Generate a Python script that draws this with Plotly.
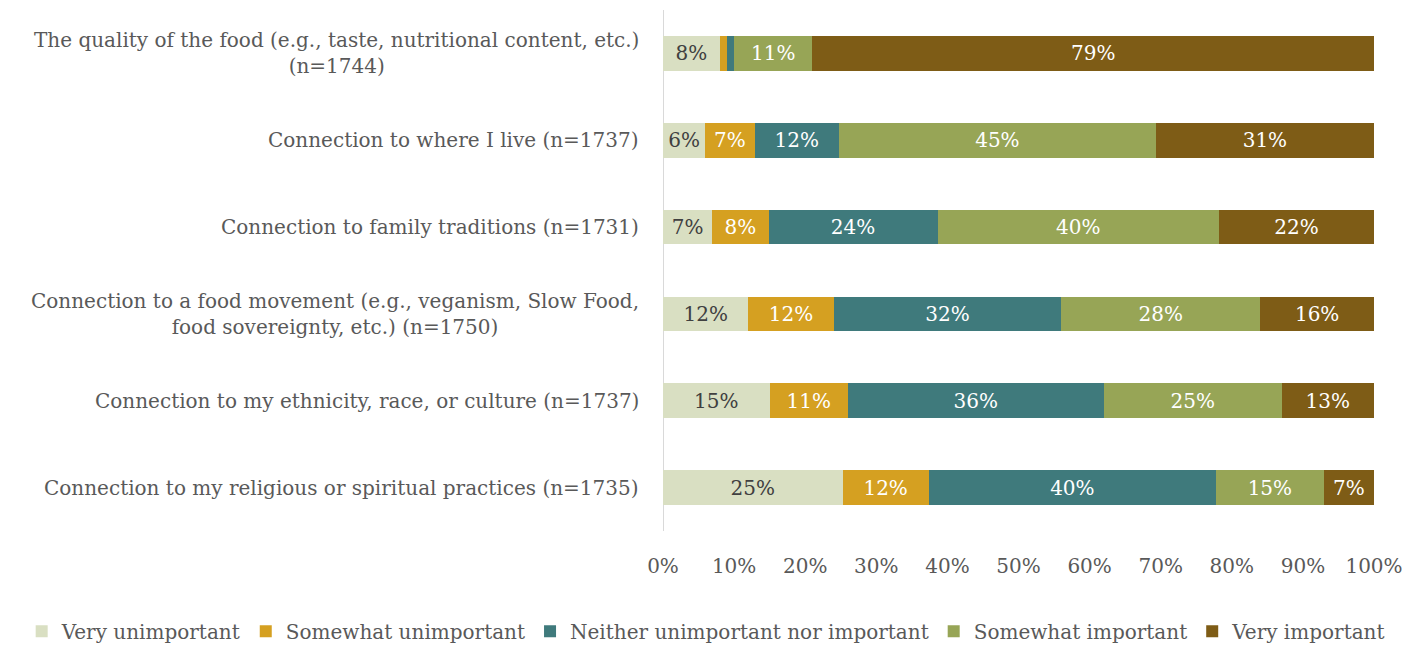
import plotly.graph_objects as go

categories = [
    "The quality of the food (e.g., taste, nutritional content, etc.)<br>(n=1744)",
    "Connection to where I live (n=1737)",
    "Connection to family traditions (n=1731)",
    "Connection to a food movement (e.g., veganism, Slow Food,<br>food sovereignty, etc.) (n=1750)",
    "Connection to my ethnicity, race, or culture (n=1737)",
    "Connection to my religious or spiritual practices (n=1735)",
]

very_unimportant = [8, 6, 7, 12, 15, 25]
somewhat_unimportant = [1, 7, 8, 12, 11, 12]
neither = [1, 12, 24, 32, 36, 40]
somewhat_important = [11, 45, 40, 28, 25, 15]
very_important = [79, 31, 22, 16, 13, 7]

# segments too thin to carry a label
hidden_labels = {("Somewhat unimportant", 0), ("Neither unimportant nor important", 0)}

series = [
    ("Very unimportant", very_unimportant, "#D9DFC2", "#404040"),
    ("Somewhat unimportant", somewhat_unimportant, "#D5A021", "white"),
    ("Neither unimportant nor important", neither, "#3F7A7C", "white"),
    ("Somewhat important", somewhat_important, "#97A556", "white"),
    ("Very important", very_important, "#7E5C16", "white"),
]

FONT = "Georgia, 'DejaVu Serif', serif"
ys = list(range(len(categories)))

fig = go.Figure()
for name, vals, color, tcolor in series:
    texts = ["" if (name, i) in hidden_labels else f"{v}%" for i, v in enumerate(vals)]
    fig.add_trace(go.Bar(
        name=name, y=ys, x=vals, orientation="h",
        marker=dict(color=color, line=dict(width=0)),
        text=texts, textposition="inside", insidetextanchor="middle",
        textangle=0, constraintext="none",
        textfont=dict(family=FONT, size=20, color=tcolor),
        hoverinfo="name+x",
    ))

for i, cat in enumerate(categories):
    fig.add_annotation(
        x=0, xref="paper", y=i, yref="y", xanchor="right", yanchor="middle",
        xshift=-22, text=cat, showarrow=False, align="center",
        font=dict(family=FONT, size=20, color="#595959"),
    )

fig.update_layout(
    barmode="stack", barnorm="percent", bargap=0.6,
    width=1418, height=648,
    margin=dict(l=663, r=44, t=10, b=117, autoexpand=False),
    plot_bgcolor="white", paper_bgcolor="white",
    font=dict(family=FONT, size=20, color="#595959"),
    legend=dict(orientation="h", x=-0.902, xanchor="left", y=-0.155, yanchor="top",
                font=dict(family=FONT, size=20, color="#595959"),
                traceorder="normal", itemwidth=30, tracegroupgap=0),
    xaxis=dict(range=[0, 100], dtick=10, ticksuffix="%", showgrid=False,
               zeroline=False, showline=False,
               ticks="outside", ticklen=17, tickcolor="rgba(0,0,0,0)",
               tickfont=dict(family=FONT, size=20, color="#595959")),
    yaxis=dict(showticklabels=False, showgrid=False,
               zeroline=False, showline=False, ticks="",
               range=[5.5, -0.5]),
)
fig.add_shape(type="line", xref="x", yref="paper", x0=0, x1=0, y0=0, y1=1,
              line=dict(color="#D9D9D9", width=2), layer="below")

fig.write_html("out.html")
